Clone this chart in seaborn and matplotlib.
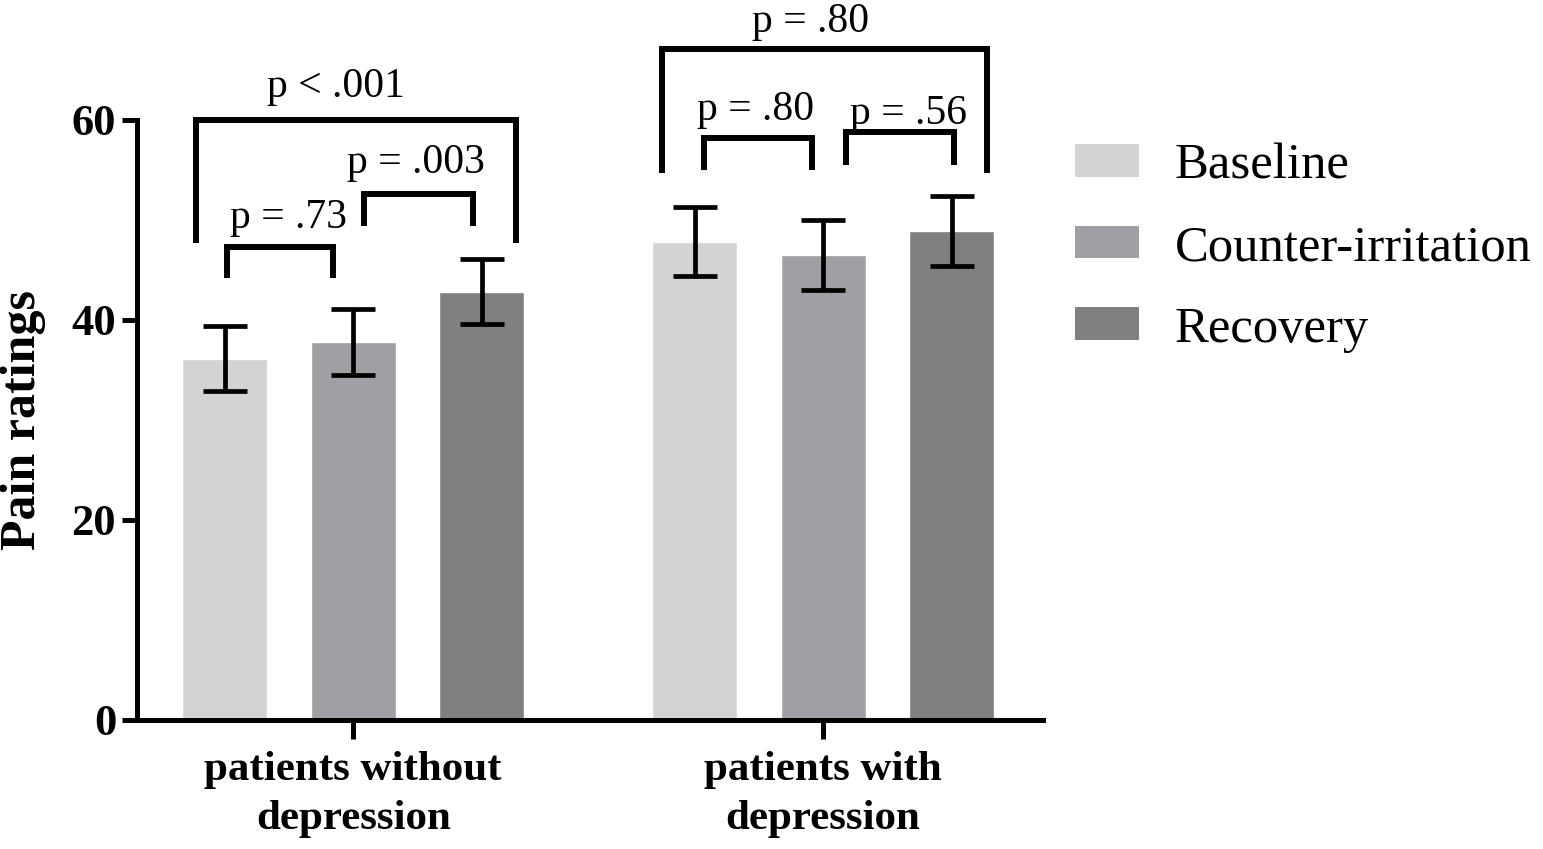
import numpy as np
import pandas as pd
import matplotlib
matplotlib.use("Agg")
import matplotlib.pyplot as plt
from matplotlib.patches import Patch
import seaborn as sns

# data
groups = ["patients without\ndepression", "patients with\ndepression"]
conditions = ["Baseline", "Counter-irritation", "Recovery"]
baseline = [36.1, 47.8]
counter = [37.8, 46.5]
recovery = [42.8, 48.9]
baseline_err = [3.25, 3.45]
counter_err = [3.3, 3.5]
recovery_err = [3.25, 3.5]
colors = ["#d3d3d3", "#a0a0a4", "#808080"]

# comparisons: (group, bar a, bar b, label)
comparisons = [
    (0, 0, 2, "p < .001"),
    (0, 0, 1, "p = .73"),
    (0, 1, 2, "p = .003"),
    (1, 0, 2, "p = .80"),
    (1, 0, 1, "p = .80"),
    (1, 1, 2, "p = .56"),
]
# bracket layout: left shift, right shift, top, leg end, text baseline, text shift
bracket_layout = [
    (-0.061, 0.073, 60.0, 47.7, 62.3, -0.043),
    (0.005, -0.043, 47.3, 44.2, 49.2, 0.017),
    (0.023, -0.018, 52.6, 49.4, 54.7, -0.005),
    (-0.069, 0.076, 67.1, 54.7, 68.8, -0.031),
    (0.020, -0.023, 58.2, 55.0, 60.0, -0.006),
    (0.049, 0.005, 58.8, 55.5, 59.6, 0.019),
]

df = pd.DataFrame({
    "group": groups * 3,
    "condition": np.repeat(conditions, 2),
    "rating": baseline + counter + recovery,
    "err": baseline_err + counter_err + recovery_err,
})

sns.set_style("ticks")
plt.rcParams["font.family"] = ["Liberation Serif", "DejaVu Serif"]
plt.rcParams.update({"text.color": "black", "axes.labelcolor": "black",
                     "axes.edgecolor": "black", "xtick.color": "black",
                     "ytick.color": "black"})

fig = plt.figure(figsize=(15.43, 8.49), dpi=100)
ax = fig.add_axes([0.0888, 0.152, 0.5872, 0.7067])

sns.barplot(data=df, x="group", y="rating", hue="condition", order=groups,
            hue_order=conditions, palette=colors, width=0.82, gap=0.34,
            errorbar=None, legend=False, saturation=1, ax=ax)

# bar centres as placed by seaborn (ordered by hue, then group)
bars = [p for p in ax.patches if p.get_height() > 0][:6]
centers = {}
for k, p in enumerate(bars):
    h, g = divmod(k, 2)
    centers[(g, h)] = p.get_x() + p.get_width() / 2

xs = [centers[(g, h)] for h in range(3) for g in range(2)]
ax.errorbar(xs, df["rating"], yerr=df["err"], fmt="none", ecolor="black",
            elinewidth=3.4, capsize=15.5, capthick=3.4, clip_on=False, zorder=5)

for (g, a, b, label), (dl, dr, top, leg, ty, tx) in zip(comparisons, bracket_layout):
    x0 = centers[(g, a)] + dl
    x1 = centers[(g, b)] + dr
    ax.plot([x0, x0, x1, x1], [leg, top, top, leg], color="black", lw=4.3,
            solid_joinstyle="miter", solid_capstyle="butt", clip_on=False)
    ax.text((x0 + x1) / 2 + tx, ty, label, ha="center", va="baseline",
            fontsize=30, clip_on=False)

ax.set_ylim(0, 60)
ax.set_xlim(-0.46, 1.468)
ax.set_yticks([0, 20, 40, 60])
ax.set_xlabel("")
ax.set_ylabel("Pain ratings", fontsize=36, fontweight="bold")
ax.yaxis.set_label_coords(-0.10, 0.5)
sns.despine(ax=ax)
for s in ["left", "bottom"]:
    ax.spines[s].set_linewidth(3.6)
ax.tick_params(axis="y", length=11, width=3.6, pad=4, labelsize=32)
ax.tick_params(axis="x", length=14, width=3.6, pad=8, labelsize=31)
for t in ax.get_yticklabels() + ax.get_xticklabels():
    t.set_fontweight("bold")
for t in ax.get_xticklabels():
    t.set_linespacing(1.4)

handles = [Patch(facecolor=c, edgecolor="none") for c in colors]
fig.legend(handles, conditions, loc="upper left", bbox_to_anchor=(0.6967, 0.8315),
           frameon=False, fontsize=36.5, handlelength=1.26, handleheight=0.61,
           handletextpad=0.71, labelspacing=0.69, borderpad=0, borderaxespad=0)

fig.savefig("out.png", dpi=100)
